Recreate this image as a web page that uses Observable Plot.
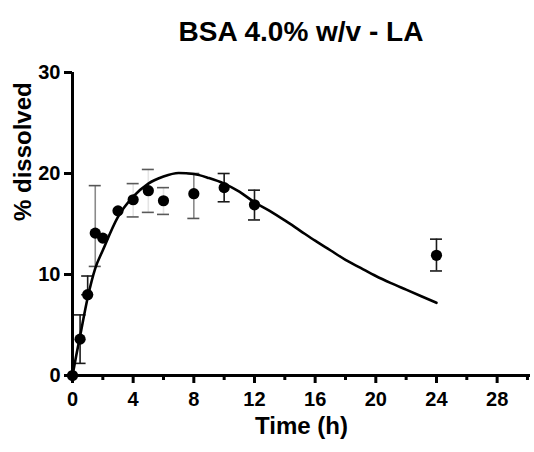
<!DOCTYPE html>
<html>
<head>
<meta charset="utf-8">
<script src="https://cdn.jsdelivr.net/npm/d3@7"></script>
<script src="https://cdn.jsdelivr.net/npm/@observablehq/plot@0.6"></script>
<style>
  html, body { margin: 0; padding: 0; background: #fff; }
  #wrap { width: 534px; font-family: "Liberation Sans", Arial, sans-serif; }
  #title { position: relative; height: 55px; }
  #title span { position: absolute; left: 0; width: 602px; top: 18px; text-align: center;
    font-weight: bold; font-size: 28px; line-height: 28px; color: #000; white-space: nowrap; }
</style>
</head>
<body>
<div id="wrap">
  <div id="title"><span>BSA 4.0% w/v - LA</span></div>
  <div id="chart"></div>
</div>
<script>
// Observed data (mean and visible error-bar ends)
const times   = [0, 0.5, 1, 1.5, 2, 3, 4, 5, 6, 8, 10, 12, 24];
const means   = [0, 3.6, 8.0, 14.1, 13.6, 16.3, 17.4, 18.3, 17.3, 18.0, 18.6, 16.9, 11.9];
const errHigh = [0, 6.0, 9.85, 18.8, 13.6, 16.3, 19.0, 20.4, 18.6, 20.0, 20.0, 18.35, 13.5];
const errLow  = [0, 1.2, 8.0, 10.8, 13.6, 16.3, 15.7, 16.15, 15.95, 15.55, 17.2, 15.4, 10.35];

// Fitted curve
const curveT = [0, 0.25, 0.5, 1, 1.5, 2, 3, 4, 5, 6, 7, 8, 9, 10, 11, 12, 13, 14, 15, 16, 17, 18, 19, 20, 21, 22, 23, 24];
const curveY = [0, 2.0, 3.9, 7.7, 10.6, 12.4, 15.7, 17.7, 19.0, 19.7, 20.05, 19.95, 19.55, 19.0, 18.2, 17.15, 16.3, 15.35, 14.35, 13.35, 12.4, 11.45, 10.65, 9.85, 9.15, 8.5, 7.85, 7.2];

// Axis ticks and labels
const xMajor = [0, 4, 8, 12, 16, 20, 24, 28];
const xMinor = [2, 6, 10, 14, 18, 22, 26, 30];
const yTicks = [0, 10, 20, 30];
const xLabel = "Time (h)";
const yLabel = "% dissolved";

const points = times.map((t, i) => ({t, m: means[i], lo: errLow[i], hi: errHigh[i]}));
const bars = points.filter(d => d.hi > d.lo);
const curve = curveT.map((t, i) => ({t, y: curveY[i]}));

const barColor = d => (d.t === 1.5 || d.t === 8) ? "#8a8a8a" : (d.t >= 4 && d.t <= 6) ? "#e4e4e4" : "#1a1a1a";
const capColor = d => (d.t >= 4 && d.t <= 6) ? "#5a5a5a" : (d.t === 1.5 || d.t === 8) ? "#555" : "#1a1a1a";
const caps = bars.flatMap(d => [{t: d.t, v: d.lo, d}, {t: d.t, v: d.hi, d}]);

const font = {fontSize: 20, fontWeight: "bold"};

const chart = Plot.plot({
  width: 534,
  height: 397,
  marginTop: 17,
  marginBottom: 77,
  marginLeft: 72,
  marginRight: 4,
  style: {fontFamily: "'Liberation Sans', Arial, sans-serif", color: "#000", background: "#fff"},
  x: {domain: [0, 30.2]},
  y: {domain: [0, 30]},
  marks: [
    Plot.ruleX(bars, {x: "t", y1: "lo", y2: "hi", stroke: barColor, strokeWidth: 1.6}),
    Plot.ruleY(caps, {y: "v", x1: "t", x2: "t", insetLeft: -6, insetRight: -6, stroke: c => capColor(c.d), strokeWidth: 1.6}),
    Plot.line(curve, {x: "t", y: "y", stroke: "#000", strokeWidth: 2.6, curve: "monotone-x"}),
    Plot.dot(points, {x: "t", y: "m", r: 5.6, fill: "#000", stroke: "none"}),
    Plot.ruleY([0], {stroke: "#000", strokeWidth: 3}),
    Plot.ruleX([0], {stroke: "#000", strokeWidth: 3}),
    Plot.axisX({ticks: xMajor, tickSize: 8, tickPadding: 8, strokeWidth: 3, label: null, ...font, fill: "#000"}),
    Plot.axisX({ticks: xMinor, tickSize: 5, strokeWidth: 3, text: null, label: null}),
    Plot.axisY({ticks: yTicks, tickSize: 8, tickPadding: 4, strokeWidth: 3, label: null, ...font, fill: "#000"}),
    Plot.text([yLabel], {text: d => d, frameAnchor: "left", rotate: -90, dx: -49, dy: -3, fontSize: 24, fontWeight: "bold", fill: "#000"}),
    Plot.text([xLabel], {text: d => d, frameAnchor: "bottom", dy: 58, fontSize: 24, fontWeight: "bold", fill: "#000"})
  ]
});
document.getElementById("chart").appendChild(chart);
</script>
</body>
</html>
